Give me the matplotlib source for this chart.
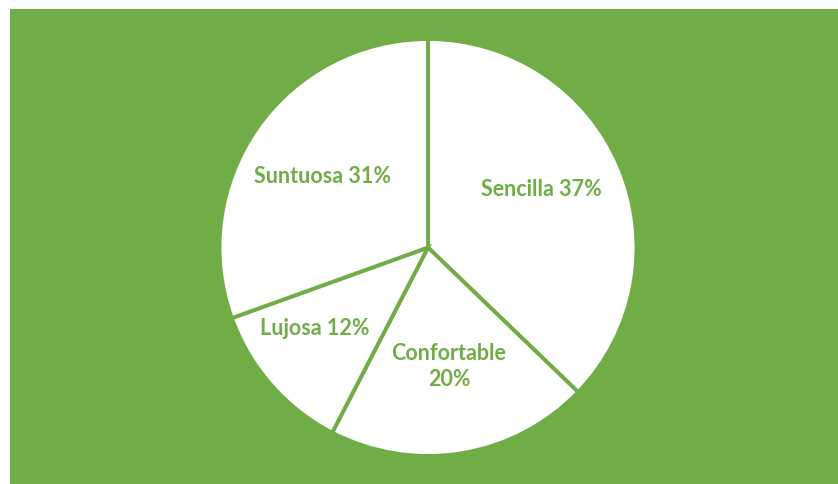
import numpy as np
import matplotlib
matplotlib.use('Agg')
import matplotlib.pyplot as plt

categories = ['Sencilla', 'Confortable', 'Lujosa', 'Suntuosa']
values = [37.2, 20.4, 11.9, 30.5]
label_text = ['Sencilla 37%', 'Confortable\n20%', 'Lujosa 12%', 'Suntuosa 31%']

green = '#70AD47'

fig = plt.figure(figsize=(8.38, 4.84), dpi=100)
fig.patch.set_facecolor('white')

# green chart area (white strip left and top)
bg = fig.add_axes([10 / 838, 0, 828 / 838, 475 / 484])
bg.set_facecolor(green)
bg.set_xticks([])
bg.set_yticks([])
for s in bg.spines.values():
    s.set_visible(False)

r = 208.5
ax = fig.add_axes([(428 - r) / 838, (236.5 - r) / 484, 2 * r / 838, 2 * r / 484])
ax.set_facecolor('none')
wedges, _ = ax.pie(values, startangle=90, counterclock=False, radius=1,
                   colors=['white'] * 4,
                   wedgeprops=dict(edgecolor=green, linewidth=2.8))
ax.set_xlim(-1, 1)
ax.set_ylim(-1, 1)
ax.axis('off')

# label placement: (angle offset deg, distance) per slice, like Excel best fit
tweaks = [(4.0, 0.61), (0.6, 0.58), (-5.7, 0.67), (1.3, 0.61)]
for w, txt, (da, d) in zip(wedges, label_text, tweaks):
    a = np.deg2rad((w.theta1 + w.theta2) / 2 + da)
    ax.text(d * np.cos(a), d * np.sin(a), txt, ha='center', va='center',
            color=green, fontsize=15.5, fontweight='bold', family='Lato',
            linespacing=1.3)

fig.savefig('out.png', dpi=100)
